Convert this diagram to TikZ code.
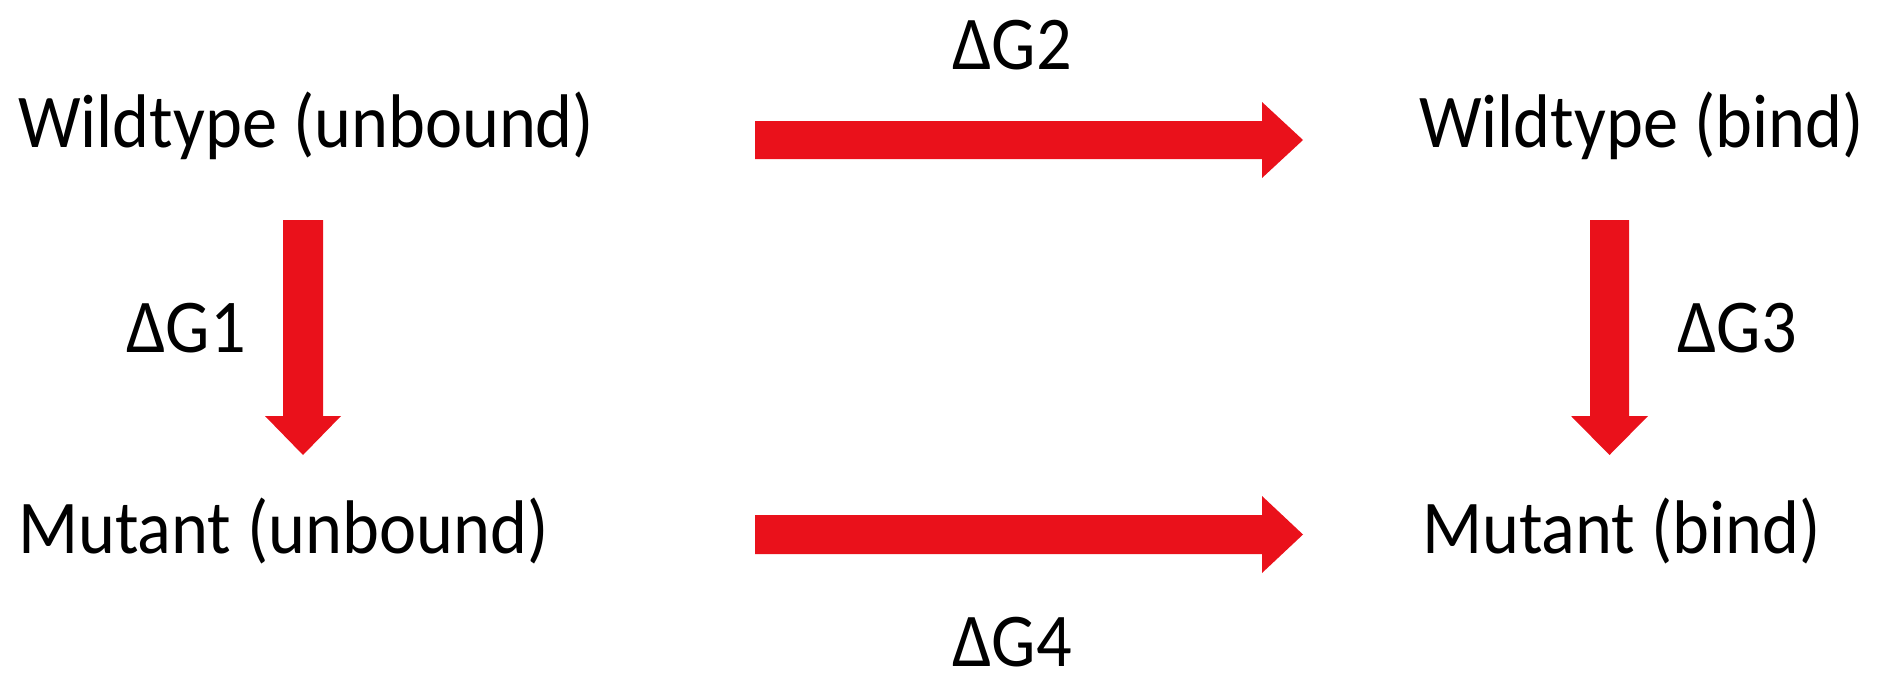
\documentclass[tikz,border=0pt]{standalone}
\usepackage{fontspec}
\setmainfont{Carlito}
\definecolor{arrred}{RGB}{234,17,27}
\tikzset{
  lbl/.style={anchor=base west, inner sep=0pt, font=\fontsize{76}{80}\selectfont},
  dg/.style={anchor=base, inner sep=0pt, font=\fontsize{76}{80}\selectfont},
  fatarrow/.style={fill=arrred}
}
\newcommand{\sx}[1]{\scalebox{0.925}[1]{#1}}
\begin{document}
\begin{tikzpicture}[x=1pt,y=-1pt]
\useasboundingbox (0,0) rectangle (1888,677);
% labels
\node[lbl] (wu) at (18,147) {\sx{Wildtype (unbound)}};
\node[lbl] (wb) at (1419,147) {\sx{Wildtype (bind)}};
\node[lbl] (mu) at (18,553) {\sx{Mutant (unbound)}};
\node[lbl] (mb) at (1422,553) {\sx{Mutant (bind)}};
\node[dg] (g1) at (186,352) {\sx{ΔG1}};
\node[dg] (g2) at (1012,70) {\sx{ΔG2}};
\node[dg] (g3) at (1737,352) {\sx{ΔG3}};
\node[dg] (g4) at (1012,666) {\sx{ΔG4}};
% arrows
\fill[fatarrow] (755,121) -- (1262,121) -- (1262,102) -- (1303,140) -- (1262,178) -- (1262,159) -- (755,159) -- cycle;
\fill[fatarrow] (755,515) -- (1262,515) -- (1262,496) -- (1303,534.5) -- (1262,573) -- (1262,554) -- (755,554) -- cycle;
\fill[fatarrow] (283,220) -- (323,220) -- (323,416) -- (341,416) -- (303,455) -- (265,416) -- (283,416) -- cycle;
\fill[fatarrow] (1590,220) -- (1629,220) -- (1629,416) -- (1648,416) -- (1609.5,455) -- (1571,416) -- (1590,416) -- cycle;
\end{tikzpicture}
\end{document}
